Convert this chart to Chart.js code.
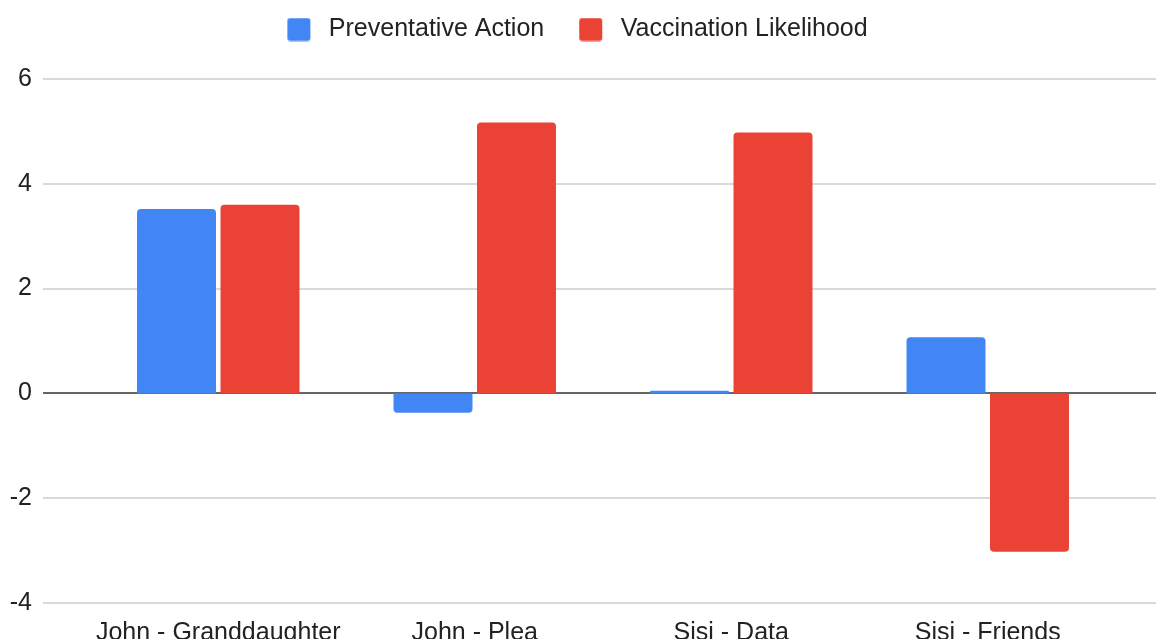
<!DOCTYPE html>
<html>
<head>
<meta charset="utf-8">
<script src="https://cdn.jsdelivr.net/npm/chart.js@4/dist/chart.umd.min.js"></script>
<style>
  html, body { margin: 0; padding: 0; background: #fff; overflow: hidden; }
  canvas { display: block; }
</style>
</head>
<body>
<canvas id="chart" width="1156" height="639"></canvas>
<script>
// Categories and series
const categories = ['John - Granddaughter', 'John - Plea', 'Sisi - Data', 'Sisi - Friends'];
const preventativeAction = [3.52, -0.37, 0.05, 1.07];
const vaccinationLikelihood = [3.6, 5.17, 4.98, -3.02];
const seriesNames = ['Preventative Action', 'Vaccination Likelihood'];
const seriesColors = ['#4285F4', '#EA4335'];
const yTicks = [-4, -2, 0, 2, 4, 6];

const FONT = '"Liberation Sans", Arial, Helvetica, sans-serif';
const TEXT = '#222222';

// Legend swatches: a rounded square with some leading room before it
function swatch(color) {
  const c = document.createElement('canvas');
  c.width = 54; c.height = 24;
  const g = c.getContext('2d');
  g.fillStyle = color;
  g.beginPath();
  g.roundRect(25, 0.5, 23, 23, 3);
  g.fill();
  return c;
}
const swatches = seriesColors.map(swatch);

// Horizontal grid lines spanning the full width, with a dark zero baseline
const gridPlugin = {
  id: 'wideGrid',
  beforeDatasetsDraw(chart) {
    const y = chart.scales.y;
    const ctx = chart.ctx;
    ctx.save();
    yTicks.forEach(v => {
      const py = Math.round(y.getPixelForValue(v));
      ctx.beginPath();
      if (v === 0) {
        ctx.strokeStyle = '#333333';
        ctx.lineWidth = 1.5;
      } else {
        ctx.strokeStyle = '#cccccc';
        ctx.lineWidth = 1.3;
      }
      ctx.moveTo(43, py);
      ctx.lineTo(chart.width, py);
      ctx.stroke();
    });
    ctx.restore();
  }
};

new Chart(document.getElementById('chart'), {
  type: 'bar',
  data: {
    labels: categories,
    datasets: [
      { label: seriesNames[0], data: preventativeAction, backgroundColor: seriesColors[0], xAxisID: 'x', yAxisID: 'y' },
      { label: seriesNames[1], data: vaccinationLikelihood, backgroundColor: seriesColors[1], xAxisID: 'x', yAxisID: 'y' }
    ]
  },
  options: {
    responsive: false,
    animation: false,
    layout: { padding: { top: 7, right: 26, bottom: 0, left: 0 } },
    datasets: {
      bar: {
        categoryPercentage: 0.651,
        barPercentage: 0.946,
        borderRadius: 4
      }
    },
    plugins: {
      legend: {
        position: 'top',
        align: 'center',
        labels: {
          usePointStyle: true,
          pointStyleWidth: 54,
          padding: 10,
          color: TEXT,
          font: { family: FONT, size: 25 },
          generateLabels(chart) {
            const items = Chart.defaults.plugins.legend.labels.generateLabels(chart);
            items.forEach((it, i) => { it.pointStyle = swatches[i]; });
            return items;
          }
        }
      },
      tooltip: { enabled: false }
    },
    scales: {
      x: {
        position: 'bottom',
        grid: { display: false },
        border: { display: false },
        ticks: {
          color: TEXT,
          font: { family: FONT, size: 25 },
          padding: 7,
          maxRotation: 0,
          autoSkip: false
        },
        afterFit(scale) { scale.height = 36; }
      },
      topGap: {
        type: 'category',
        position: 'top',
        display: true,
        grid: { display: false },
        border: { display: false },
        ticks: { display: false },
        afterFit(scale) { scale.height = 27; }
      },
      rightGap: {
        type: 'category',
        position: 'right',
        display: true,
        grid: { display: false },
        border: { display: false },
        ticks: { display: false },
        afterFit(scale) { scale.width = 14; }
      },
      y: {
        min: -4,
        max: 6,
        grid: { display: false },
        border: { display: false },
        afterBuildTicks(scale) { scale.ticks = yTicks.map(v => ({ value: v })); },
        ticks: {
          color: TEXT,
          font: { family: FONT, size: 25 },
          padding: 50
        },
        afterFit(scale) {
          scale.width = 90;
          // the wide label gap is horizontal only
          scale.paddingTop = 15;
          scale.paddingBottom = 15;
        }
      }
    }
  },
  plugins: [gridPlugin]
});
</script>
</body>
</html>
